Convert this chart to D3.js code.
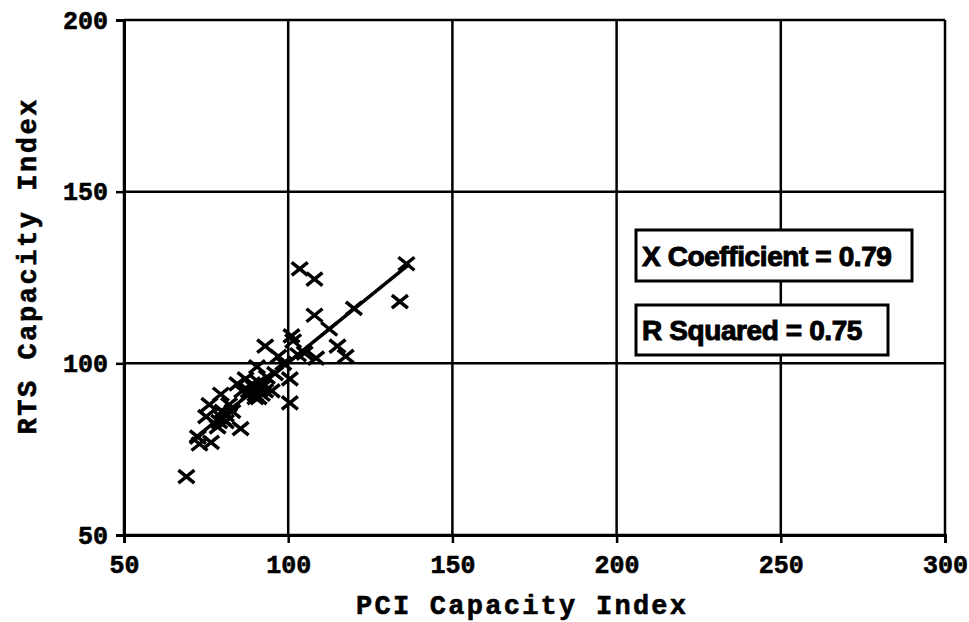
<!DOCTYPE html>
<html>
<head>
<meta charset="utf-8">
<script src="https://cdn.jsdelivr.net/npm/d3@7/dist/d3.min.js"></script>
<style>
  body { margin: 0; background: #fff; }
  svg { display: block; }
</style>
</head>
<body>
<svg id="chart" width="969" height="622"></svg>
<script>
// PCI index (x) and RTS index (y) per observation
var pciValues = [69, 103.5, 108, 136, 134, 108, 120, 112.5, 115, 117.5,
                 108.5, 103, 101, 101.5, 93, 97, 90.5, 100.5, 100.5, 95,
                 89.5, 91, 88, 92, 87, 93.5, 84.5, 79.5, 76, 82,
                 75, 81, 78.5, 85.5, 72.5, 76.5, 73, 80, 83, 90,
                 96, 86, 105, 98.5, 88, 90, 92, 89, 91, 93,
                 79, 81, 80];
var rtsValues = [67, 127.5, 124.5, 129, 118, 114, 116, 110, 105, 102,
                 101.5, 102.5, 108, 106.5, 105, 102, 99, 95.5, 88.5, 92,
                 93, 94.5, 91, 91, 95.5, 96, 94, 91, 88, 88,
                 84.5, 85, 81.5, 81, 78.5, 77, 76.5, 84, 86, 90,
                 97, 92, 103, 100, 92, 91, 93, 94, 90, 92,
                 83, 83, 86];

// fitted line end points
var fitX = [70, 137];
var fitY = [77, 129];

var xTicks = [50, 100, 150, 200, 250, 300];
var yTicks = [50, 100, 150, 200];
var notes = ["X Coefficient = 0.79", "R Squared = 0.75"];

var svg = d3.select("#chart");
var x = d3.scaleLinear().domain([50, 300]).range([124, 945]);
var y = d3.scaleLinear().domain([50, 200]).range([535, 20]);
var monoFont = "'Liberation Mono', 'Courier New', monospace";

// grid lines (also draw the frame)
svg.append("g").selectAll("line").data(xTicks).enter().append("line")
    .attr("x1", function(d) { return x(d); })
    .attr("x2", function(d) { return x(d); })
    .attr("y1", y(50)).attr("y2", y(200))
    .attr("stroke", "#000").attr("stroke-width", 2.5);
svg.append("g").selectAll("line").data(yTicks).enter().append("line")
    .attr("y1", function(d) { return y(d); })
    .attr("y2", function(d) { return y(d); })
    .attr("x1", x(50)).attr("x2", x(300))
    .attr("stroke", "#000").attr("stroke-width", 2.5);

// axes
var xAxis = svg.append("g")
    .attr("transform", "translate(0," + y(50) + ")")
    .call(d3.axisBottom(x).tickValues(xTicks).tickSize(8).tickPadding(12));
var yAxis = svg.append("g")
    .attr("transform", "translate(" + x(50) + ",0)")
    .call(d3.axisLeft(y).tickValues(yTicks).tickSize(8).tickPadding(8));

[xAxis, yAxis].forEach(function(ax) {
    ax.select(".domain").attr("stroke", "#000").attr("stroke-width", 3);
    ax.selectAll(".tick line").attr("stroke", "#000").attr("stroke-width", 2.5);
    ax.selectAll(".tick text")
        .attr("fill", "#000")
        .attr("stroke", "#000")
        .attr("stroke-width", 0.6)
        .attr("font-family", monoFont)
        .attr("font-weight", "bold")
        .attr("font-size", "25px");
});

// axis titles
svg.append("text")
    .attr("x", 521).attr("y", 614)
    .attr("text-anchor", "middle")
    .attr("font-family", monoFont)
    .attr("font-weight", "bold")
    .attr("font-size", "27px")
    .attr("stroke", "#000").attr("stroke-width", 0.6)
    .attr("textLength", 330)
    .attr("lengthAdjust", "spacing")
    .text("PCI Capacity Index");
svg.append("text")
    .attr("transform", "translate(36,267)rotate(-90)")
    .attr("text-anchor", "middle")
    .attr("font-family", monoFont)
    .attr("font-weight", "bold")
    .attr("font-size", "27px")
    .attr("stroke", "#000").attr("stroke-width", 0.6)
    .attr("textLength", 335)
    .attr("lengthAdjust", "spacing")
    .text("RTS Capacity Index");

// fitted line
svg.append("line")
    .attr("x1", x(fitX[0])).attr("y1", y(fitY[0]))
    .attr("x2", x(fitX[1])).attr("y2", y(fitY[1]))
    .attr("stroke", "#000").attr("stroke-width", 3.5);

// X markers
var pts = d3.range(pciValues.length).map(function(i) { return [pciValues[i], rtsValues[i]]; });
svg.append("g").selectAll("path").data(pts).enter().append("path")
    .attr("d", "M-8,-6.5L8,6.5M-8,6.5L8,-6.5")
    .attr("transform", function(d) { return "translate(" + x(d[0]) + "," + y(d[1]) + ")"; })
    .attr("stroke", "#000")
    .attr("stroke-width", 3.5)
    .attr("fill", "none");

// statistic boxes
var boxes = [{ text: notes[0], x0: 636, y0: 230, w: 276, h: 51 },
             { text: notes[1], x0: 636, y0: 305, w: 252, h: 50 }];
boxes.forEach(function(b) {
    svg.append("rect")
        .attr("x", b.x0).attr("y", b.y0)
        .attr("width", b.w).attr("height", b.h)
        .attr("fill", "#fff")
        .attr("stroke", "#000")
        .attr("stroke-width", 3);
    svg.append("text")
        .attr("x", b.x0 + 6).attr("y", b.y0 + b.h / 2 + 10)
        .attr("font-family", "'Liberation Sans', Arial, sans-serif")
        .attr("font-weight", "bold")
        .attr("font-size", "28px")
        .attr("letter-spacing", "-0.4px")
        .attr("stroke", "#000")
        .attr("stroke-width", 1)
        .text(b.text);
});
</script>
</body>
</html>
